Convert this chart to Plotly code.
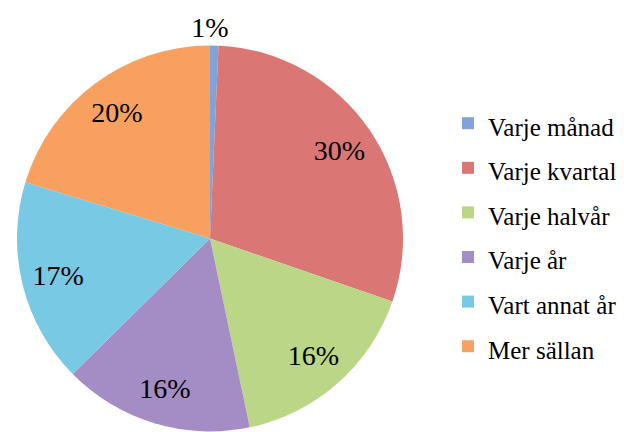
import plotly.graph_objects as go

categories = ["Varje månad", "Varje kvartal", "Varje halvår", "Varje år", "Vart annat år", "Mer sällan"]
values = [0.7, 29.6, 16.4, 15.9, 17.1, 20.3]
colors = ["#7FA3DA", "#DA7674", "#BAD686", "#A48CC4", "#78C9E3", "#F8A060"]

legend_labels = ["<span style='font-size:25px'>%s</span>" % c for c in categories]
total = sum(values)
# the tiny first slice's label sits centred above the pie, as in the original
top_label = "<span style='font-size:28px'>%d%%</span>" % round(values[0] / total * 100)
pie_domain = dict(x=[17 / 624, 403 / 624], y=[0, 418 / 432])
label_font = dict(family="Liberation Serif", size=28, color="#000000")
title_font = dict(family="Liberation Serif", size=22, color="#000000")

fig = go.Figure()

# coloured slices + legend
fig.add_trace(
    go.Pie(
        labels=legend_labels,
        values=values,
        sort=False,
        direction="clockwise",
        rotation=0,
        marker=dict(colors=colors, line=dict(width=0)),
        textinfo="none",
        hoverinfo="label+percent",
        title=dict(text=top_label, position="top center",
                   font=dict(family="Liberation Serif", size=22, color="rgba(0,0,0,0)")),
        domain=pie_domain,
    )
)

# transparent ring carrying the percentage labels further out, like Excel
fig.add_trace(
    go.Pie(
        labels=legend_labels,
        values=values,
        sort=False,
        direction="clockwise",
        rotation=0,
        hole=0.62,
        marker=dict(colors=["rgba(0,0,0,0)"] * len(values), line=dict(width=0)),
        texttemplate="%{percent:.0%}",
        textposition=["none", "inside", "inside", "inside", "inside", "inside"],
        insidetextorientation="horizontal",
        textfont=label_font,
        title=dict(text=top_label, position="top center", font=title_font),
        hoverinfo="skip",
        showlegend=False,
        domain=pie_domain,
    )
)

fig.update_layout(
    width=624,
    height=432,
    margin=dict(l=0, r=0, t=0, b=0, autoexpand=False),
    paper_bgcolor="#FFFFFF",
    plot_bgcolor="#FFFFFF",
    showlegend=True,
    legend=dict(
        x=448 / 624,
        y=0.778,
        xanchor="left",
        yanchor="top",
        font=dict(family="Liberation Serif", size=32, color="#000000"),
        bgcolor="rgba(0,0,0,0)",
    ),
)

fig.write_html(
    "out.html",
    config={"displayModeBar": False},
    post_script="document.body.style.margin='0';document.body.style.overflow='hidden';",
)
